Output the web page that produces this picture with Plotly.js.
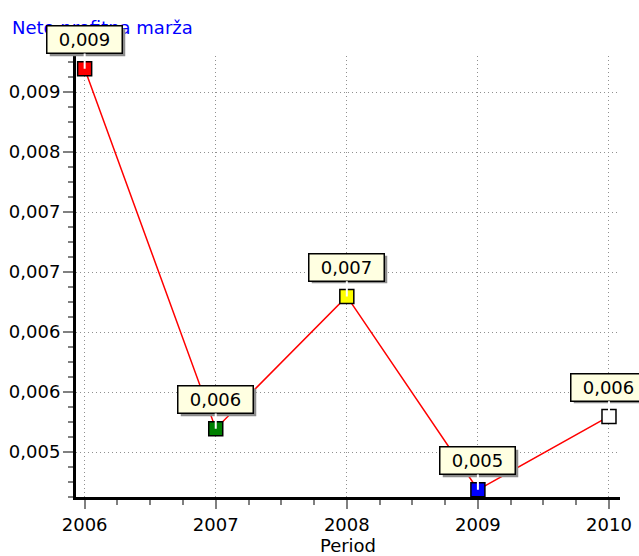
<!DOCTYPE html>
<html>
<head>
<meta charset="utf-8">
<script src="https://cdn.plot.ly/plotly-3.0.1.min.js"></script>
<style>
    html, body { margin: 0; padding: 0; background: #ffffff; }
    #chart { width: 639px; height: 556px; }
</style>
</head>
<body>
<div id="chart"></div>
<script>
const years = [2006, 2007, 2008, 2009, 2010];
const margins = [0.00875, 0.00551, 0.00670, 0.00496, 0.00562];
const markerColors = ['#ff0000', '#008000', '#ffff00', '#0000ff', '#ffffff'];
const labels = ['0,009', '0,006', '0,007', '0,005', '0,006'];

const FONT = "DejaVu Sans, Verdana, sans-serif";

const trace = {
    x: years,
    y: margins,
    mode: 'lines+markers',
    line: { color: '#ff0000', width: 1.5 },
    marker: {
        symbol: 'square',
        size: 14,
        color: markerColors,
        line: { color: '#000000', width: 1.5 }
    },
    hoverinfo: 'x+y'
};

// label boxes: a grey shadow first, then the cream box on top
const annotations = [];
years.forEach((yr, i) => {
    annotations.push({
        x: yr, y: margins[i], xref: 'x', yref: 'y',
        text: labels[i],
        font: { family: FONT, size: 18, color: 'rgba(0,0,0,0)' },
        showarrow: true, arrowcolor: 'rgba(0,0,0,0)', ax: 0, ay: -29,
        xshift: 2.5, yshift: -2.5,
        width: 72, height: 24,
        bgcolor: '#8c8c8c', borderwidth: 1.5, bordercolor: 'rgba(0,0,0,0)'
    });
});
years.forEach((yr, i) => {
    annotations.push({
        x: yr, y: margins[i], xref: 'x', yref: 'y',
        text: labels[i],
        font: { family: FONT, size: 18, color: '#000000' },
        showarrow: true, arrowhead: 0, arrowwidth: 2, arrowcolor: '#ffffff',
        ax: 0, ay: -29,
        width: 72, height: 24,
        bgcolor: '#ffffe1', borderwidth: 1.5, bordercolor: '#000000'
    });
});

const layout = {
    width: 639,
    height: 556,
    paper_bgcolor: '#ffffff',
    plot_bgcolor: '#ffffff',
    separators: ',.',
    font: { family: FONT, size: 18, color: '#000000' },
    showlegend: false,
    margin: { l: 76, r: 19, t: 56, b: 59 },
    title: {
        text: 'Neto profitna marža',
        font: { family: FONT, size: 18, color: '#0000ff' },
        xref: 'container', yref: 'container',
        x: 12 / 639, xanchor: 'left',
        y: 1 - 28 / 556, yanchor: 'middle'
    },
    xaxis: {
        range: [2005.934, 2010.084],
        tickvals: years,
        ticktext: years.map(String),
        ticks: 'outside', ticklen: 9, tickwidth: 1.5, tickcolor: '#808080',
        minor: { dtick: 0.25, tick0: 2006, ticks: 'outside', ticklen: 5, tickcolor: '#808080', tickwidth: 1.5, showgrid: false },
        showgrid: true, gridcolor: '#909090', griddash: '1px,3px', gridwidth: 1,
        showline: true, linecolor: '#000000', linewidth: 3,
        zeroline: false,
        tickfont: { family: FONT, size: 18 },
        title: { text: 'Period', font: { family: FONT, size: 18 }, standoff: 11 }
    },
    yaxis: {
        range: [0.004895, 0.008864],
        tick0: 0.0053, dtick: 0.00054,
        tickformat: '.3f',
        ticks: 'outside', ticklen: 10, tickwidth: 1.5, tickcolor: '#808080',
        minor: { dtick: 0.000135, tick0: 0.0053, ticks: 'outside', ticklen: 5, tickcolor: '#808080', tickwidth: 1.5, showgrid: false },
        showgrid: true, gridcolor: '#909090', griddash: '1px,3px', gridwidth: 1,
        showline: true, linecolor: '#000000', linewidth: 3,
        zeroline: false,
        ticklabelstandoff: -1,
        tickfont: { family: FONT, size: 18 }
    },
    annotations: annotations
};

Plotly.newPlot('chart', [trace], layout, { displayModeBar: false, responsive: false });
</script>
</body>
</html>
